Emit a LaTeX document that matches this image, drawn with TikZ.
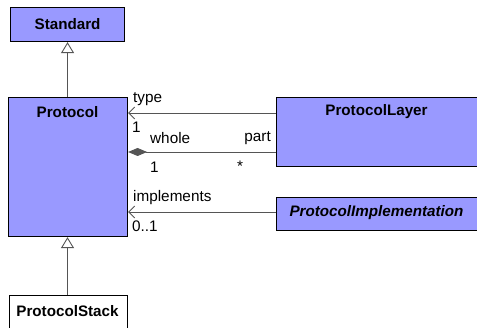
\documentclass[tikz,border=0pt]{standalone}
\usepackage{fontspec}
\setmainfont{Liberation Sans}
\usetikzlibrary{arrows.meta}
\definecolor{clsfill}{RGB}{153,153,255}
\definecolor{lnc}{RGB}{85,85,85}
\begin{document}
\begin{tikzpicture}[x=1pt,y=-1pt,
  cls/.style={draw=black, line width=1.1pt, fill=clsfill, inner sep=0pt, anchor=north west},
  lbl/.style={font=\fontsize{15.3}{18}\selectfont, inner sep=0pt},
  ttl/.style={font=\bfseries\fontsize{15.2}{18}\selectfont, inner sep=0pt},
  conn/.style={draw=lnc, line width=0.9pt},
  gen/.style={conn, -{Triangle[open,length=11pt,width=13pt,fill=white]}},
  nav/.style={conn, -{Straight Barb[length=6pt,width=12pt]}},
  comp/.style={conn, -{Diamond[length=19pt,width=8pt,fill=lnc]}}
]
\useasboundingbox (0,0) rectangle (477,328);
\clip (0,0) rectangle (477,328);
% classes
\node[cls, minimum width=114pt, minimum height=34pt] (S) at (10,7) {};
\node[ttl] (St) at (S.center) {Standard};
\node[cls, minimum width=119pt, minimum height=139pt] (P) at (8,97) {};
\node[ttl] (Pt) at (67.5,112) {Protocol};
\node[cls, fill=white, minimum width=118pt, minimum height=40pt] (PS) at (9,295) {};
\node[ttl] (PSt) at (67.5,311) {ProtocolStack};
\node[cls, minimum width=204pt, minimum height=69pt] (PL) at (276,97) {};
\node[ttl] (PLt) at (376.5,112) {ProtocolLayer};
\node[cls, minimum width=204pt, minimum height=33pt] (PI) at (276,197) {};
\node[ttl, font=\bfseries\itshape\fontsize{15.2}{18}\selectfont] (PIt) at (376.5,213) {ProtocolImplementation};
% connector rows
\coordinate (r1) at (0,113);
\coordinate (r2) at (0,152);
\coordinate (r3) at (0,212);
% generalizations
\draw[gen] (P.north -| St) -- (S.south -| St);
\draw[gen] (PS.north -| PSt) -- (P.south -| PSt);
% associations
\draw[nav] (PL.west |- r1) -- (P.east |- r1);
\draw[comp] (PL.west |- r2) -- (P.east |- r2);
\draw[nav] (PI.west |- r3) -- (P.east |- r3);
% labels
\node[lbl, anchor=west] (ltype) at (133,99) {type};
\node[lbl, anchor=west] (l1a) at (132,127) {1};
\node[lbl, anchor=west] (lwhole) at (150,138) {whole};
\node[lbl, anchor=east] (lpart) at (271,138) {part};
\node[lbl, anchor=west] (l1b) at (150,167) {1};
\node[lbl, anchor=west] (lstar) at (237,166) {*};
\node[lbl, anchor=west] (limpl) at (133,198) {implements};
\node[lbl, anchor=west] (l01) at (132,226) {0..1};
\end{tikzpicture}
\end{document}
